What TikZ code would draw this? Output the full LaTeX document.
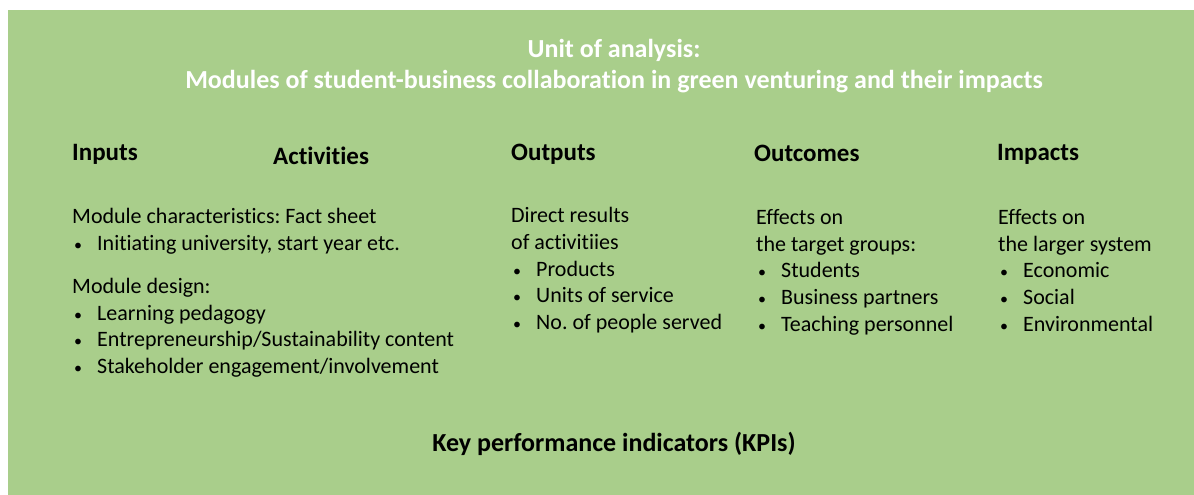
\documentclass[tikz,border=0pt]{standalone}
\usepackage{fontspec}
\setmainfont{Carlito}[Ligatures = NoCommon]
\usepackage{xcolor}
\definecolor{boxgreen}{RGB}{169,206,139}
\frenchspacing

\newcommand{\bitem}[1]{\makebox[25pt][l]{\hspace{2pt}{\fontsize{16}{16}\selectfont\textbullet}}#1}

\begin{document}
\begin{tikzpicture}[x = 1pt, y = -1pt,
  title/.style = {text = white, font = \fontsize{26}{31}\selectfont\bfseries, align = center, inner sep = 0pt},
  head/.style = {font = \fontsize{25}{25}\selectfont\bfseries, anchor = west, inner sep = 0pt},
  body/.style = {font = \fontsize{22}{26.6}\selectfont, align = left, anchor = north west, inner sep = 0pt}]

\useasboundingbox (0, 0) rectangle (1194, 495);
\path [fill = boxgreen] (8, 10) rectangle (1194, 495);

\node [title] (unit) at (614, 66) {Unit of analysis:\\Modules of student-business collaboration in green venturing and their impacts};

\node [head] (inputs) at (72, 154) {Inputs};
\node [head] (activities) at (273, 156) {Activities};
\node [head] (outputs) at (511, 154) {Outputs};
\node [head] (outcomes) at (754, 153) {Outcomes};
\node [head] (impacts) at (997, 154) {Impacts};

\node [body] (inputs text) at (72, 208) {Module characteristics: Fact sheet\\
  \bitem{Initiating university, start year etc.}\\[17pt]
  Module design:\\
  \bitem{Learning pedagogy}\\
  \bitem{Entrepreneurship/Sustainability content}\\
  \bitem{Stakeholder engagement/involvement}};

\node [body] (outputs text) at (511, 207.5) {Direct results\\
  of activitiies\\
  \bitem{Products}\\
  \bitem{Units of service}\\
  \bitem{No. of people served}};

\node [body] (outcomes text) at (756, 209.5) {Effects on\\
  the target groups:\\
  \bitem{Students}\\
  \bitem{Business partners}\\
  \bitem{Teaching personnel}};

\node [body] (impacts text) at (998, 209.5) {Effects on\\
  the larger system\\
  \bitem{Economic}\\
  \bitem{Social}\\
  \bitem{Environmental}};

\node [head, anchor = center, font = \fontsize{26}{26}\selectfont\bfseries] (kpi) at (614, 444) {Key performance indicators (KPIs)};

\end{tikzpicture}
\end{document}
